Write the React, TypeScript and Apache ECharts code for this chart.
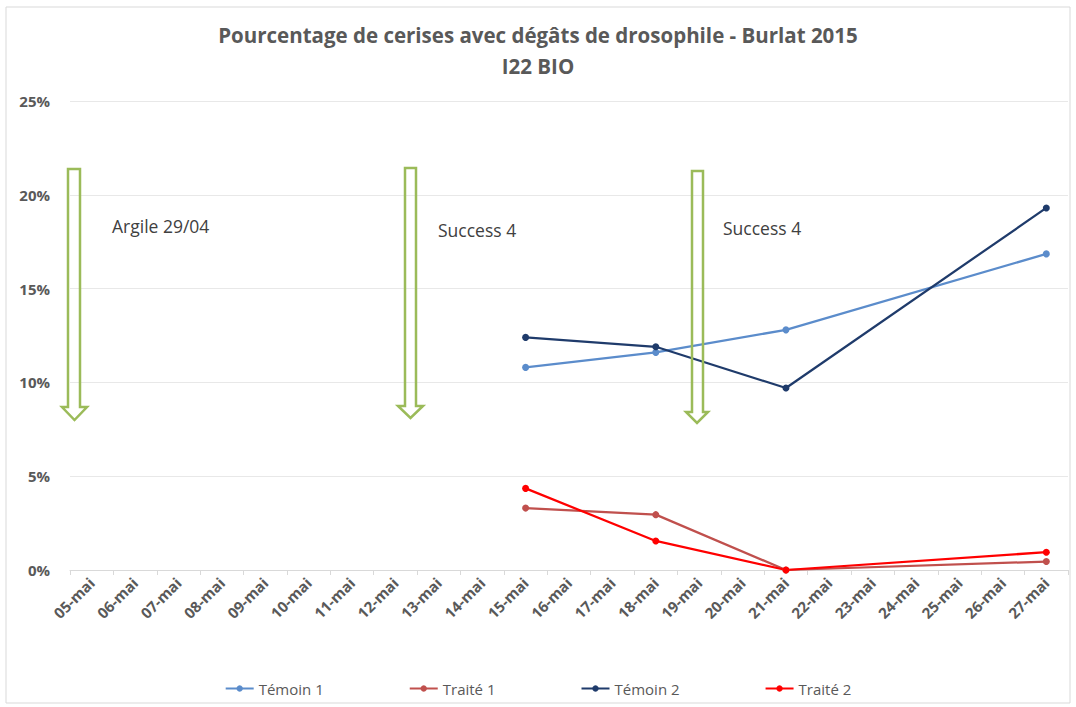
import React, { useEffect, useRef } from "react";
import * as echarts from "echarts";

const categories = [
  "05-mai", "06-mai", "07-mai", "08-mai", "09-mai", "10-mai", "11-mai", "12-mai",
  "13-mai", "14-mai", "15-mai", "16-mai", "17-mai", "18-mai", "19-mai", "20-mai",
  "21-mai", "22-mai", "23-mai", "24-mai", "25-mai", "26-mai", "27-mai",
];

const temoin1: (number | null)[] = [
  null, null, null, null, null, null, null, null, null, null,
  10.8, null, null, 11.6, null, null, 12.8, null, null, null, null, null, 16.85,
];
const traite1: (number | null)[] = [
  null, null, null, null, null, null, null, null, null, null,
  3.3, null, null, 2.95, null, null, 0, null, null, null, null, null, 0.45,
];
const temoin2: (number | null)[] = [
  null, null, null, null, null, null, null, null, null, null,
  12.4, null, null, 11.9, null, null, 9.7, null, null, null, null, null, 19.3,
];
const traite2: (number | null)[] = [
  null, null, null, null, null, null, null, null, null, null,
  4.35, null, null, 1.55, null, null, 0, null, null, null, null, null, 0.95,
];

const seriesNames = ["Témoin 1", "Traité 1", "Témoin 2", "Traité 2"];
const seriesColors = ["#5B8CCB", "#C0504D", "#1F3B6B", "#FF0000"];
const seriesData = [temoin1, traite1, temoin2, traite2];

const annotations = ["Argile 29/04", "Success 4", "Success 4"];

const FONT = "'Open Sans', 'Liberation Sans', sans-serif";

function arrow(x1: number, x2: number, yt: number, yh: number, yb: number, hl: number, hr: number) {
  const cx = (hl + hr) / 2;
  return {
    type: "polygon",
    shape: {
      points: [
        [x1, yt], [x2, yt], [x2, yh], [hr, yh], [cx, yb], [hl, yh], [x1, yh],
      ],
    },
    style: { fill: "none", stroke: "#9BBB59", lineWidth: 2.5 },
    z: 10,
  };
}

export default function App() {
  const ref = useRef<HTMLDivElement>(null);
  useEffect(() => {
    if (!ref.current) return;
    const chart = echarts.init(ref.current, null, { renderer: "svg" });
    chart.setOption({
      animation: false,
      backgroundColor: "#ffffff",
      title: {
        text: "Pourcentage de cerises avec dégâts de drosophile - Burlat 2015\nI22 BIO",
        left: "center",
        top: 14,
        textStyle: {
          fontFamily: FONT,
          fontSize: 20.5,
          fontWeight: "bold",
          color: "#595959",
          lineHeight: 31,
        },
      },
      grid: { left: 70, right: 8, top: 101, bottom: 137, containLabel: false },
      legend: {
        bottom: 6,
        left: "center",
        itemGap: 85,
        itemWidth: 28,
        itemHeight: 8,
        textStyle: { fontFamily: FONT, fontSize: 15, color: "#595959" },
        data: seriesNames,
      },
      xAxis: {
        type: "category",
        data: categories,
        boundaryGap: true,
        axisLine: { show: true, lineStyle: { color: "#D9D9D9", width: 1 } },
        axisTick: { show: true, alignWithLabel: false, length: 5, lineStyle: { color: "#D9D9D9" } },
        axisLabel: {
          interval: 0,
          rotate: 45,
          fontFamily: FONT,
          fontSize: 15,
          fontWeight: "bold",
          color: "#595959",
          margin: 10,
        },
      },
      yAxis: {
        type: "value",
        min: 0,
        max: 25,
        interval: 5,
        axisLine: { show: false },
        axisTick: { show: false },
        splitLine: { lineStyle: { color: "#E8E8E8", width: 1 } },
        axisLabel: {
          formatter: "{value}%",
          fontFamily: FONT,
          fontSize: 15,
          fontWeight: "bold",
          color: "#595959",
          margin: 20,
        },
      },
      series: seriesNames.map((name, i) => ({
        name,
        type: "line",
        data: seriesData[i],
        connectNulls: true,
        symbol: "circle",
        symbolSize: 7,
        lineStyle: { color: seriesColors[i], width: 2.25 },
        itemStyle: { color: seriesColors[i] },
        z: 2,
      })),
      graphic: [
        {
          type: "rect",
          shape: { x: 6, y: 7, width: 1064, height: 696 },
          style: { fill: "none", stroke: "#D9D9D9", lineWidth: 1 },
          silent: true,
        },
        arrow(68, 80, 169, 407, 420, 62, 87),
        arrow(405, 416, 168, 406, 418, 398, 423),
        arrow(692, 703, 171, 412, 423, 686, 708),
        {
          type: "text",
          x: 112,
          y: 226,
          style: { text: annotations[0], fontFamily: FONT, fontSize: 17.5, fill: "#404040", textVerticalAlign: "middle" },
        },
        {
          type: "text",
          x: 438,
          y: 230,
          style: { text: annotations[1], fontFamily: FONT, fontSize: 17.5, fill: "#404040", textVerticalAlign: "middle" },
        },
        {
          type: "text",
          x: 723,
          y: 228,
          style: { text: annotations[2], fontFamily: FONT, fontSize: 17.5, fill: "#404040", textVerticalAlign: "middle" },
        },
      ],
    });
    return () => chart.dispose();
  }, []);
  return (
    <div
      ref={ref}
      style={{ position: "absolute", left: 0, top: 0, width: 1076, height: 707 }}
    />
  );
}
